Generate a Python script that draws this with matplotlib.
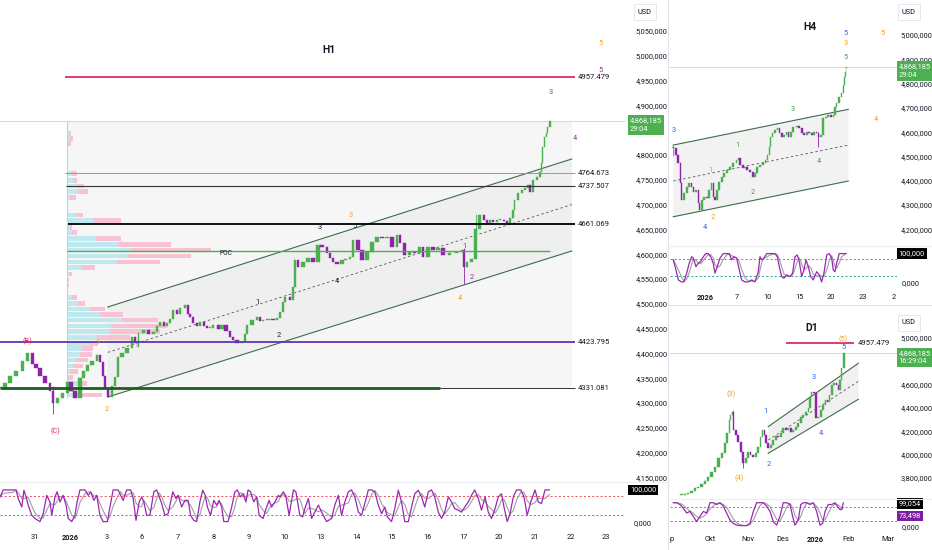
import numpy as np
import pandas as pd
import matplotlib
matplotlib.use('Agg')
import matplotlib.pyplot as plt
from matplotlib.transforms import blended_transform_factory as btf
from matplotlib.lines import Line2D
from matplotlib.patches import Rectangle, Polygon

plt.rcParams['font.family'] = ['Roboto', 'DejaVu Sans']

# ---------------- DATA ----------------
# H1: x in trading days (0 = "31"), closes
h1_x = [-0.98,-0.84,-0.70,-0.53,-0.36,-0.20,-0.08,0.03,0.14,0.28,0.42,0.50,0.64,0.78,0.90,1.01,1.12,1.26,1.37,1.48,1.60,1.74,1.82,1.90,1.96,2.04,
        2.16,2.24,2.32,2.44,2.58,2.72,2.80,2.86,2.89,3.03,3.17,3.31,3.42,3.50,3.61,3.70,3.78,3.87,3.98,4.06,4.20,4.29,4.34,4.43,4.54,4.62,4.73,4.82,4.90,4.99,5.13,5.24,5.35,5.46,5.55,5.66,5.80,5.88,5.94,6.08,6.22,6.30,6.39,6.53,6.67,6.78,6.86,6.95,
        7.00,7.14,7.23,7.28,7.37,7.51,7.65,7.79,7.93,8.04,8.18,8.26,8.35,8.46,8.60,8.71,8.82,8.91,9.05,9.16,9.30,9.44,9.58,9.72,9.86,10.00,10.14,10.22,10.36,10.50,10.64,10.78,10.87,11.01,11.15,11.29,11.43,11.62,11.82,11.96,12.02,12.10,12.24,
        12.35,12.46,12.58,12.66,12.74,12.83,12.94,13.02,13.14,13.22,13.30,13.39,13.44,13.53,13.64,13.72,13.81,13.87,13.95,14.06,14.14,14.20,14.23,14.28,14.34,14.37,14.43]
h1_close = [4330,4340,4355,4365,4385,4401,4378,4370,4355,4340,4325,4300,4310,4320,4343,4325,4310,4350,4365,4377,4385,4397,4383,4355,4330,4313,
            4335,4352,4393,4400,4411,4433,4420,4413,4441,4447,4440,4443,4455,4463,4455,4461,4470,4487,4480,4491,4497,4480,4473,4461,4455,4463,4455,4451,4452,4457,4450,4457,4445,4433,4427,4420,4423,4440,4457,4468,4473,4465,4467,4470,4468,4471,4483,4504,
            4514,4508,4534,4588,4574,4584,4592,4584,4618,4615,4602,4592,4584,4580,4588,4590,4594,4629,4608,4588,4605,4625,4635,4633,4635,4615,4639,4623,4598,4605,4602,4615,4594,4615,4608,4612,4598,4602,4605,4608,4574,4584,4590,
            4650,4679,4668,4663,4668,4665,4668,4669,4666,4663,4673,4689,4709,4723,4729,4733,4739,4725,4750,4756,4766,4784,4816,4836,4844,4856,4868.185]
h1_wick_x = [0.50, 12.02, 12.35]
h1_wick_lo = [4278, 4540, 4640]
h1_wick_hi = [4335, 4612, 4682]

h1_osc_x = [-0.98,-0.89,-0.61,-0.53,-0.47,-0.37,-0.31,-0.25,-0.19,-0.09,0.00,0.14,0.23,0.33,0.42,0.47,0.56,0.62,0.70,0.79,
            0.87,0.93,1.03,1.12,1.18,1.26,1.40,1.49,1.56,1.65,1.73,1.82,1.91,2.03,2.10,2.19,2.33,2.40,2.47,2.57,
            2.68,2.75,2.83,2.92,2.99,3.05,3.13,3.22,3.33,3.41,3.48,3.55,3.64,3.73,3.86,3.95,4.01,4.11,4.20,4.29,
            4.36,4.45,4.53,4.62,4.70,4.77,4.83,4.92,5.01,5.09,5.16,5.23,5.29,5.41,5.51,5.60,5.67,5.76,5.83,5.91,
            5.97,6.04,6.13,6.21,6.28,6.39,6.49,6.56,6.63,6.72,6.82,
            6.86,6.96,7.03,7.12,7.24,7.31,7.42,7.50,7.56,7.66,7.75,7.84,7.94,8.03,8.17,8.31,8.40,8.50,8.59,8.68,
            8.78,8.87,8.96,9.06,9.15,9.24,9.34,9.43,9.52,9.62,9.71,9.80,9.87,9.99,10.08,10.18,10.27,10.36,10.46,10.55,
            10.64,10.74,10.83,10.92,11.02,11.11,11.20,11.30,11.39,11.48,11.58,11.67,11.76,11.86,11.95,12.04,12.14,12.23,12.32,12.42,
            12.51,12.61,12.70,12.79,12.89,12.98,13.07,13.14,13.23,13.31,13.40,13.49,13.61,13.70,13.79,13.89,14.01,14.10,14.19,14.29,14.41]
h1_osc_k = [78,100,100,100,73,46,99,78,52,20,10,0,25,83,62,20,78,94,62,83,52,10,0,20,62,100,100,83,94,67,83,20,0,0,46,100,100,83,67,100,
            100,73,4,62,78,62,20,20,94,100,78,57,20,25,94,73,83,46,67,67,20,4,0,62,99,83,46,20,67,52,67,46,0,0,46,94,100,78,88,62,
            100,94,62,78,20,10,46,67,46,62,83,
            78,94,78,20,100,94,20,15,41,73,10,30,52,30,0,10,52,83,20,62,94,100,78,30,20,57,100,100,94,52,
            25,46,15,0,41,99,62,0,0,46,88,99,78,46,94,100,78,30,10,30,78,62,41,36,30,46,62,83,100,73,
            36,78,30,10,41,78,88,46,0,25,78,100,100,78,20,62,100,62,57,100,100]

h1_tick_pos = list(range(17))
h1_tick_lab = ['31','2026','3','6','7','8','9','10','13','14','15','16','17','20','21','22','23']

# H1 volume profile (price rows, up / down volume)
vp_price = [4843.7,4833.6,4823.5,4786.5,4763,4748,4737.5,4726,4715,4679,4668,4654,4643.4,4632,4620,4608.5,4596.4,4584.3,4573,4560,
            4548,4538,4512,4501,4489.5,4478.8,4467.3,4455,4443.8,4432.4,4420.3,4409.5,4398,4386.7,4374.6,4363,4351.8,4339.7,4327.6,4316]
vp_up = [1.7,2.7,1,1,5,6,10.3,11,2.7,7.7,26,2.7,4.3,28.3,51,63.7,59.3,49.3,14.3,1.7,
         1,1,4.3,11,22.7,32.7,54.3,44.3,42.7,29.3,22.7,14.3,12.7,7.7,6,2.7,1,11,4.3,7.7]
vp_dn = [2,3.3,2.3,0,4.3,3.3,6.7,9.3,5.7,8.3,27.7,1.7,5,25.3,52.3,79.7,64.3,43.3,13.3,2.7,
         0.5,0.5,5,6.7,15,22.7,36.7,55,50,33.3,8.3,11.7,12.3,13.3,10,8.3,5,8.3,5,26.7]
poc = 4606
last_price = 4868.185
levels_h1 = [4957.479, 4764.673, 4737.507, 4661.069, 4423.795, 4331.081]

# H4
h4_x = [-3.02,-2.76,-2.54,-2.31,-2.22,-2.00,-1.74,-1.50,-1.27,-1.11,-0.86,-0.64,-0.54,-0.31,-0.10,0.16,0.41,0.64,0.79,0.95,
        1.17,1.36,1.59,1.81,2.07,2.38,2.70,3.02,3.17,3.33,3.59,3.81,4.03,4.29,4.54,4.76,4.98,5.24,5.55,5.81,
        5.93,6.12,6.26,6.45,6.67,6.89,7.08,7.30,7.52,7.78,7.93,8.16,8.41,8.73,8.98,9.21,9.43,9.69,9.93,10.16,
        10.38,10.64,10.79,11.02,11.27,11.50,11.74,11.97,12.22,12.38,12.54,12.76,13.02,13.17,13.27,13.36,13.43,13.49]
h4_close = [4534,4506,4472,4390,4321,4349,4376,4390,4376,4355,4362,4307,4280,4321,4335,4328,4362,4390,4335,4321,
            4362,4396,4417,4431,4444,4458,4472,4486,4493,4465,4451,4458,4444,4437,4417,4431,4458,4465,4472,4486,
            4506,4540,4581,4595,4609,4616,4595,4581,4588,4602,4581,4602,4623,4626,4616,4595,4588,4602,4595,4588,
            4602,4595,4581,4588,4657,4664,4671,4664,4671,4705,4719,4746,4760,4794,4829,4849,4863,4868.185]
h4_wick_x = [-3.02, 10.79]
h4_wick_lo = [4500, 4540]
h4_wick_hi = [4548, 4600]
h4_osc_x = [-3.02,-2.76,-2.54,-2.22,-2.00,-1.74,-1.50,-1.27,-1.11,-0.86,-0.64,-0.41,-0.16,0.10,0.31,0.54,0.79,0.95,1.17,1.43,
            1.74,2.07,2.31,2.54,2.76,3.02,3.27,3.49,3.81,4.12,4.45,4.76,5.08,5.24,5.40,5.62,5.88,6.19,6.67,6.89,
            7.08,7.30,7.52,7.78,8.10,8.35,8.57,8.79,8.98,9.21,9.43,9.62,9.84,10.07,10.32,10.64,10.89,11.11,11.33,11.59,
            11.84,12.07,12.22,12.38,12.54,12.79,13.02,13.43]
h4_osc_k = [78,42,7,0,0,31,66,89,84,54,66,72,89,100,100,89,66,31,54,84,
            100,100,100,78,89,84,42,7,0,0,7,0,36,89,78,84,100,100,100,89,
            54,19,13,25,19,31,89,95,72,19,42,78,54,19,7,36,25,0,31,95,
            100,84,42,36,66,100,100,100]
h4_tick_pos = [0, 3, 6, 9, 12, 15, 18]
h4_tick_lab = ['2026', '7', '10', '15', '20', '23', '2']

# D1 (x in daily bars, 0 = start of October)
d1_x = [-17.2,-15.2,-13.2,-11.1,-9.1,-7.1,-5.1,-3.0,-1.0,1.0,3.0,5.1,7.1,9.1,10.5,11.7,12.5,13.7,14.5,15.8,
        17.2,18.6,20.2,21.8,23.2,24.6,26.3,27.9,29.3,30.7,31.9,32.9,33.9,35.4,36.8,38.4,40.0,41.4,42.8,44.4,
        46.1,47.5,48.9,50.5,52.1,53.5,55.0,56.6,58.2,59.6,60.6,61.6,63.0,64.2,65.6,67.1,68.7,70.1,71.1,72.3,
        73.8,75.2,76.8,77.8,78.8,79.8,81.2]
d1_close = [3653,3661,3667,3689,3710,3724,3747,3775,3810,3852,3895,3967,4010,4096,4182,4296,4339,4367,4210,4167,
            4110,4024,3924,3967,4024,3996,3981,4010,4067,4153,4210,4167,4096,4053,4082,4124,4159,4153,4182,4225,
            4210,4225,4196,4210,4239,4267,4324,4339,4367,4396,4496,4539,4525,4311,4324,4382,4425,4468,4453,4511,
            4597,4611,4597,4554,4639,4740,4868.185]
d1_wick_x = [13.7, 20.2]
d1_wick_lo = [4300, 3886]
d1_wick_hi = [4381, 4024]
d1_osc_x = [-22.2,-20.2,-18.2,-16.2,-14.1,-12.1,-10.1,-8.1,-6.1,-4.0,-2.0,0.0,2.0,4.1,6.1,8.1,10.1,12.1,14.1,16.2,
            18.2,20.2,22.2,24.2,26.3,28.3,30.3,32.3,34.3,36.4,38.4,40.4,42.4,44.4,46.5,48.5,50.1,51.5,53.5,55.0,
            56.6,58.6,60.6,62.6,64.6,66.7,68.3,69.7,71.7,73.7,75.8,77.8,78.8,79.8,80.8]
d1_osc_k = [100,100,92,77,55,62,40,17,40,62,55,100,100,92,100,85,55,25,10,2,
            0,0,0,10,62,100,100,100,85,62,17,2,40,100,100,92,40,2,25,92,
            100,100,92,100,62,2,10,62,92,92,100,77,70,70,99]
# the "Sep" label is cut by the panel edge, only its last letter shows
d1_tick_pos = [-23.2, 0, 23, 44, 64, 84, 108]
d1_tick_lab = ['p', 'Okt', 'Nov', 'Des', '2026', 'Feb', 'Mar']

# ---------------- STYLE ----------------
UP = '#4caf50'; DN = '#8e24aa'
ORANGE = '#f39c12'; PURPLE = '#9c27b0'; PINK = '#e91e63'; BLUE = '#2962ff'
GREEN = '#43a047'; BLACK = '#131722'; CHAN = '#3f6b47'
TXT = '#131722'; FS = 5.3

W, H = 932, 550
fig = plt.figure(figsize=(W / 100, H / 100), dpi=100)
fig.patch.set_facecolor('white')


def box(x0, y0, x1, y1):
    return fig.add_axes([x0 / W, 1 - y1 / H, (x1 - x0) / W, (y1 - y0) / H])


def fmt(v):
    return f"{int(v):,}" + ",000"


def clean(ax):
    for s in ax.spines.values():
        s.set_visible(False)
    ax.set_facecolor('none')


def candles(ax, x, c, wmax, minh, wx, wlo, whi):
    x = np.asarray(x, float)
    c = np.asarray(c, float)
    o = np.r_[c[0], c[:-1]]
    col = np.where(c >= o, UP, DN)
    gaps = np.diff(x)
    left = np.r_[gaps[0], gaps]
    right = np.r_[gaps, gaps[-1]]
    w = np.minimum(np.minimum(left, right) * 0.8, wmax)
    xl = list(x)
    wcol = [col[xl.index(v)] if v in xl else UP for v in wx]
    ax.vlines(wx, wlo, whi, color=wcol, lw=0.6, zorder=4)
    ax.bar(x, np.maximum(np.abs(c - o), minh), bottom=np.minimum(o, c), width=w,
           color=col, edgecolor=col, linewidth=0.3, zorder=5)


def price_axis(ax, xlim, ylim, ticks, pad):
    clean(ax)
    ax.set_xlim(*xlim)
    ax.set_ylim(*ylim)
    ax.set_xticks([])
    ax.yaxis.tick_right()
    ax.set_yticks(ticks)
    ax.set_yticklabels([fmt(t) for t in ticks])
    ax.tick_params(axis='y', length=0, pad=pad, labelsize=FS, labelcolor=TXT)


def osc_axis(ax, x, k, xlim, ylim, xt, xl, pad):
    clean(ax)
    k = pd.Series(k, dtype=float)
    dl = k.rolling(3, min_periods=1).mean()
    ax.axhline(80, color='#f23645', lw=0.6, ls=(0, (2.5, 2.5)))
    ax.axhline(20, color='#089981', lw=0.6, ls=(0, (2.5, 2.5)))
    ax.plot(x, dl, color='#9e9ea6', lw=0.8)
    ax.plot(x, k, color='#9c27b0', lw=0.9)
    ax.set_xlim(*xlim)
    ax.set_ylim(*ylim)
    ax.set_yticks([])
    ax.set_xticks(xt)
    ax.set_xticklabels(xl)
    ax.tick_params(axis='x', length=0, pad=pad, labelsize=FS, labelcolor=TXT)
    for lab in ax.get_xticklabels():
        if lab.get_text() == '2026':
            lab.set_fontweight('bold')


def price_box(ax, price, txt, fx):
    ax.annotate(txt, xy=(fx, price), xycoords=btf(ax.transAxes, ax.transData),
                xytext=(0, 2.6), textcoords='offset points', ha='left', va='top',
                fontsize=FS, color='white', linespacing=1.3, annotation_clip=False, zorder=10,
                bbox=dict(boxstyle='square,pad=0.3', fc='#4caf50', ec='none'))


def val_box(ax, val, txt, fx, fc, tc='white'):
    bb = None if fc is None else dict(boxstyle='square,pad=0.25', fc=fc, ec='none')
    ax.text(fx, val, txt, transform=btf(ax.transAxes, ax.transData), ha='left', va='center',
            fontsize=FS, color=tc, clip_on=False, zorder=10, bbox=bb)


def wave(ax, items):
    for x, y, t, c in items:
        ax.text(x, y, t, color=c, fontsize=5.3, ha='center', va='center', zorder=8)


def channel(ax, up, lo, mid, fill='#efefef'):
    (x0, u0), (x1, u1) = up
    (_, l0), (_, l1) = lo
    ax.add_patch(Polygon([[x0, u0], [x1, u1], [x1, l1], [x0, l0]], closed=True,
                         fc=fill, ec='none', zorder=1))
    ax.plot([x0, x1], [u0, u1], color=CHAN, lw=0.8, zorder=3)
    ax.plot([x0, x1], [l0, l1], color=CHAN, lw=0.8, zorder=3)
    ax.plot([mid[0][0], mid[1][0]], [mid[0][1], mid[1][1]], color='#555555', lw=0.6,
            ls=(0, (3, 3)), zorder=3)


# ================= H1 =================
h1 = box(0, 0, 625, 481)
h1o = box(0, 482, 625, 530)
H1X = (-0.98, 16.53)
price_axis(h1, H1X, (4142.7, 5112.5), [p for p in range(4150, 5051, 50) if p != 4850], 7.5)

vp_base = 0.905
vp_scale = 1 / 35.7
h1.add_patch(Rectangle((vp_base, 4331.081), 15.04 - vp_base, last_price - 4331.081,
                       fc='#f6f6f6', ec='none', zorder=0))
channel(h1, [(2.04, 4493.5), (15.04, 4792)], [(2.04, 4312), (15.04, 4606.5)],
        [(2.04, 4402), (15.04, 4700)])

up_len = np.array(vp_up) * vp_scale
dn_len = np.array(vp_dn) * vp_scale
h1.barh(vp_price, up_len, left=vp_base, height=9.5, color='#bfe9ef', zorder=2)
h1.barh(vp_price, dn_len, left=vp_base + up_len, height=9.5, color='#f7c3d3', zorder=2)
h1.vlines(vp_base, 4310, last_price, color='#9fe0ea', lw=0.8, zorder=2)

h1.axhline(last_price, color='#c9d3d0', lw=0.6, zorder=2)
lx0, lx1 = 0.84, 15.13
h1.hlines(levels_h1[0], lx0, lx1, color='#d81b60', lw=1.2, zorder=6)
h1.hlines(levels_h1[1], lx0, lx1, color='#ec6f95', lw=0.7, zorder=6)
h1.hlines(levels_h1[2], 0.88, lx1, color='#333333', lw=0.8, zorder=6)
h1.hlines(levels_h1[3], 0.92, lx1, color='#000000', lw=1.3, zorder=6)
h1.hlines(poc, 0.90, 14.43, color='#4caf50', lw=1.0, zorder=6)
h1.hlines(levels_h1[4], H1X[0], lx1, color='#5e35b1', lw=1.3, zorder=6)
h1.hlines(levels_h1[5], H1X[0], 11.34, color='#1b5e20', lw=2.0, zorder=6)
h1.hlines(levels_h1[5], 11.34, lx1, color='#333333', lw=0.7, zorder=6)
for lv in levels_h1:
    h1.text(15.21, lv, f"{lv:.3f}", fontsize=5.5, color=TXT, ha='left', va='center', zorder=8)
h1.text(5.35, 4601, 'POC', fontsize=4.8, color=TXT, ha='center', va='center', zorder=8)

candles(h1, h1_x, h1_close, 0.09, 2.0, h1_wick_x, h1_wick_lo, h1_wick_hi)

wave(h1, [(15.83, 5024, '5', ORANGE), (15.85, 4971, '5', PURPLE), (14.45, 4927, '3', PURPLE),
          (15.13, 4834, '4', PURPLE), (8.85, 4677, '3', ORANGE), (7.98, 4653, '3', BLACK),
          (8.94, 4655, '5', BLACK), (8.46, 4544, '4', BLACK), (12.02, 4616, '1', PURPLE),
          (12.24, 4554, '2', PURPLE), (11.90, 4510, '4', ORANGE), (6.83, 4437, '2', BLACK),
          (6.22, 4502, '1', BLACK), (1.76, 4421, '1', ORANGE), (2.02, 4286, '2', ORANGE),
          (-0.20, 4425, '(B)', PINK), (0.56, 4242, '(C)', PINK)])
h1.text(0.526, 0.896, 'H1', transform=h1.transAxes, fontsize=7.5, fontweight='bold',
        color=TXT, ha='center', va='center')
price_box(h1, last_price, '4,868,185\n29:04', 1.008)

osc_axis(h1o, h1_osc_x, h1_osc_k, H1X, (-26.5, 125), h1_tick_pos, h1_tick_lab, 3)
val_box(h1o, 100, '100,000', 1.008, '#000000')
val_box(h1o, -5, '0,000', 1.014, None, TXT)

# ================= H4 =================
h4 = box(670, 0, 897, 245)
h4o = box(670, 247, 897, 290)
H4X = (-3.33, 18.29)
price_axis(h4, H4X, (4135.8, 5144), list(range(4200, 5001, 100)), 2.5)
channel(h4, [(-3.02, 4547), (13.65, 4694)], [(-3.02, 4252), (13.65, 4399)],
        [(-3.02, 4399), (13.65, 4547)], fill='#f2f2f2')
h4.axhline(last_price, color='#c9d3d0', lw=0.6, zorder=2)
candles(h4, h4_x, h4_close, 0.2, 4.0, h4_wick_x, h4_wick_lo, h4_wick_hi)
wave(h4, [(-2.95, 4609, '3', BLUE), (0.48, 4444, '1', ORANGE), (0.76, 4251, '2', ORANGE),
          (0.0, 4206, '4', BLUE), (3.05, 4547, '1', GREEN), (4.57, 4350, '2', GREEN),
          (8.38, 4695, '3', GREEN), (10.86, 4481, '4', GREEN), (13.43, 4909, '5', GREEN),
          (13.43, 4967, '3', ORANGE), (13.43, 5008, '5', BLUE), (16.95, 5008, '5', ORANGE),
          (16.29, 4654, '4', ORANGE)])
h4.text(0.617, 0.89, 'H4', transform=h4.transAxes, fontsize=7.5, fontweight='bold',
        color=TXT, ha='center', va='center')
price_box(h4, last_price, '4,868,185\n29:04', 1.008)
osc_axis(h4o, h4_osc_x, h4_osc_k, H4X, (-28.6, 123.3), h4_tick_pos, h4_tick_lab, 3)
val_box(h4o, 100, '100,000', 1.008, '#000000')
val_box(h4o, -5, '0,000', 1.02, None, TXT)

# ================= D1 =================
d1 = box(670, 310, 897, 498)
d1o = box(670, 500, 897, 530)
D1X = (-24.2, 113.3)
price_axis(d1, D1X, (3626.6, 5240), [3800, 4000, 4200, 4400, 4600, 5000], 2.5)
channel(d1, [(35.3, 4239), (89.9, 4783)], [(35.3, 4010), (89.9, 4474)],
        [(35.3, 4124), (89.9, 4628)], fill='#f0f0f0')
d1.axhline(last_price, color='#c9d3d0', lw=0.6, zorder=2)
d1.hlines(levels_h1[0], 46.0, 87.5, color='#d81b60', lw=1.2, zorder=6)
d1.text(89.5, levels_h1[0], f"{levels_h1[0]:.3f}", fontsize=5.5, color=TXT, ha='left',
        va='center', zorder=8)
candles(d1, d1_x, d1_close, 1.4, 9.0, d1_wick_x, d1_wick_lo, d1_wick_hi)
wave(d1, [(12.7, 4511, '(3)', ORANGE), (17.6, 3798, '(4)', ORANGE), (33.3, 4365, '1', BLUE),
          (35.8, 3910, '2', BLUE), (63.0, 4657, '3', BLUE), (67.3, 4176, '4', BLUE),
          (80.6, 4914, '5', BLUE), (80.6, 4991, '(5)', ORANGE)])
d1.text(0.626, 0.904, 'D1', transform=d1.transAxes, fontsize=7.5, fontweight='bold',
        color=TXT, ha='center', va='center')
price_box(d1, last_price, '4,868,185\n16:29:04', 1.008)
osc_axis(d1o, d1_osc_x, d1_osc_k, D1X, (-19.2, 111.8), d1_tick_pos, d1_tick_lab, 4)
val_box(d1o, 97, '99,054', 1.008, '#000000')
val_box(d1o, 42, '73,498', 1.008, '#7b1fa2')
val_box(d1o, -8, '0,000', 1.02, None, TXT)

# ---------------- panel chrome ----------------
def fline(x0, y0, x1, y1, c='#e0e3eb', lw=0.8):
    fig.add_artist(Line2D([x0 / W, x1 / W], [1 - y0 / H, 1 - y1 / H], color=c, lw=lw))

fline(668, 0, 668, 550)
fline(668, 305, 932, 305)
fline(0, 481.5, 668, 481.5, '#eceef2')
fline(670, 246, 932, 246, '#eceef2')
fline(670, 499, 932, 499, '#eceef2')

for (x, y) in [(638, 12), (902, 12), (902, 323)]:
    fig.text(x / W, 1 - y / H, 'USD', fontsize=FS, color=TXT, ha='left', va='center',
             bbox=dict(boxstyle='square,pad=0.6', fc='white', ec='#e0e3eb', lw=0.6))

fig.savefig('out.png', dpi=100, facecolor='white')
